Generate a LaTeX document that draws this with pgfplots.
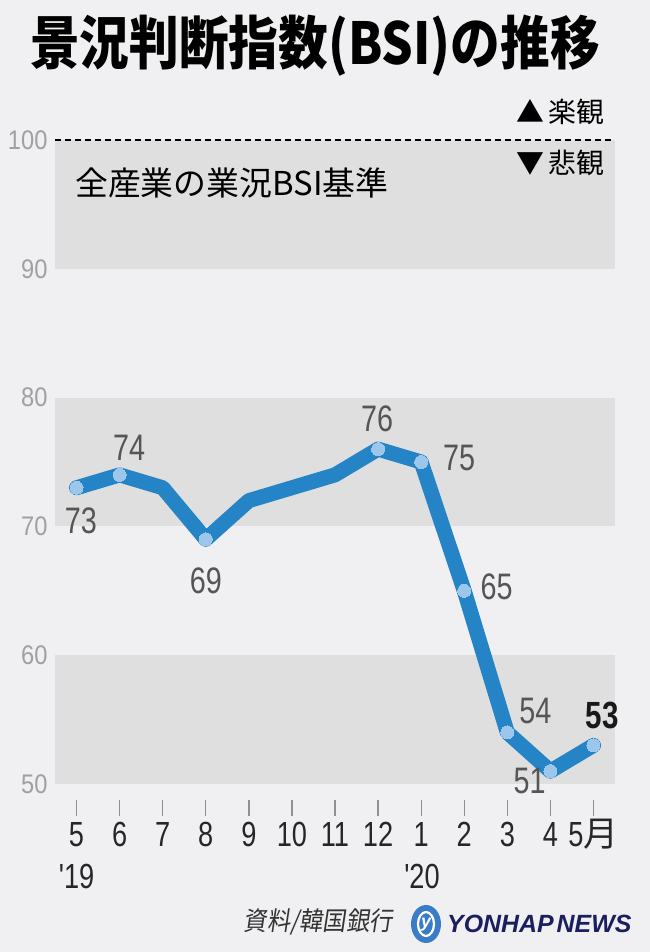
\documentclass[border=0pt]{standalone}
\usepackage{fontspec}
\setmainfont{Liberation Sans}
\newfontfamily\cond{Liberation Sans}[FakeStretch=0.78]
\newfontfamily\ycond{Liberation Sans}[FakeStretch=0.88]
\newfontfamily\jp{Noto Sans CJK JP}
\newfontfamily\jpc{Noto Sans CJK JP}[FakeStretch=0.86]
\newfontfamily\jpi{Noto Sans CJK JP}[FakeSlant=0.15,FakeStretch=0.9]
\usepackage{pgfplots}
\pgfplotsset{compat=1.18}
\definecolor{bg}{HTML}{F0F0F2}
\definecolor{band}{HTML}{DFDFDF}
\definecolor{lineblue}{HTML}{2484C6}
\definecolor{dot}{HTML}{9CC7EA}
\definecolor{lab}{HTML}{555555}
\definecolor{ylab}{HTML}{A0A0A0}
\definecolor{navy}{HTML}{1B1F5E}
\definecolor{logoblue}{HTML}{3A7CC8}
\begin{document}
\begin{tikzpicture}[x=1bp,y=1bp]
\fill[bg] (0,0) rectangle (650,952);
% title
\node[anchor=center,inner sep=0] at (315,906) {\jpc\bfseries\fontsize{58}{58}\selectfont 景況判断指数(BSI)の推移};
% source & logo
\node[anchor=east,inner sep=0,text=black!80] at (393,30) {\jpi\fontsize{26}{26}\selectfont 資料/韓国銀行};
\fill[logoblue] (426,28) ellipse (15bp and 19bp);
\draw[white, line width=2.2bp] (426,28) ellipse (8bp and 12bp);
\node[text=white,inner sep=0] at (426,27) {\bfseries\itshape\fontsize{18}{18}\selectfont y};
\node[anchor=west,inner sep=0,text=navy] at (447,28) {\bfseries\itshape\fontsize{25}{25}\selectfont YONHAP\hspace{3bp}NEWS};
\begin{axis}[
  at={(55bp,168bp)}, anchor=south west, scale only axis,
  width=560bp, height=644bp,
  xmin=-0.5, xmax=12.5, ymin=50, ymax=100,
  axis line style={draw=none}, clip=false,
  xtick={0,...,12},
  xticklabels={5,6,7,8,9,10,11,12,1,2,3,4,5{\jp 月}},
  ytick={50,60,70,80,90,100},
  major tick length=0pt,
  /pgf/number format/assume math mode=true,
  xticklabel style={font=\cond\fontsize{35}{35}\selectfont, text=black!85, anchor=base, yshift=-63bp},
  yticklabel style={font=\ycond\fontsize{27}{27}\selectfont, text=ylab, xshift=-4bp},
]
% bands
\addplot[fill=band, draw=none] coordinates {(-0.5,50) (12.5,50) (12.5,60) (-0.5,60)} -- cycle;
\addplot[fill=band, draw=none] coordinates {(-0.5,70) (12.5,70) (12.5,80) (-0.5,80)} -- cycle;
\addplot[fill=band, draw=none] coordinates {(-0.5,90) (12.5,90) (12.5,100) (-0.5,100)} -- cycle;
% dashed baseline
\addplot[black, line width=1.6bp, dash pattern=on 6bp off 4bp] coordinates {(-0.5,100) (12.5,100)};
% tick marks
\pgfplotsinvokeforeach{0,...,12}{
  \draw[ylab!90!black, line width=1.3bp] (axis cs:#1,48.75) -- (axis cs:#1,47.55);
}
% data line
\addplot[lineblue, line width=15bp, line join=round, line cap=round, mark=none]
  coordinates {(0,73) (1,74) (2,73) (3,69) (4,72) (5,73) (6,74) (7,76) (8,75) (9,65) (10,54) (11,51) (12,53)};
% dots on labelled points
\addplot[dot, only marks, mark=*, mark size=6.5bp, mark options={fill=dot, draw=dot, line width=0pt}]
  coordinates {(0,73) (1,74) (3,69) (7,76) (8,75) (9,65) (10,54) (11,51) (12,53)};
% value labels
\node[text=lab, font=\cond\fontsize{37}{37}\selectfont, inner sep=0] at (axis cs:0.1,70.45) {73};
\node[text=lab, font=\cond\fontsize{37}{37}\selectfont, inner sep=0] at (axis cs:1.22,76.1) {74};
\node[text=lab, font=\cond\fontsize{37}{37}\selectfont, inner sep=0] at (axis cs:3,65.8) {69};
\node[text=lab, font=\cond\fontsize{37}{37}\selectfont, inner sep=0] at (axis cs:6.98,78.35) {76};
\node[text=lab, font=\cond\fontsize{37}{37}\selectfont, inner sep=0] at (axis cs:8.88,75.3) {75};
\node[text=lab, font=\cond\fontsize{37}{37}\selectfont, inner sep=0] at (axis cs:9.75,65.3) {65};
\node[text=lab, font=\cond\fontsize{37}{37}\selectfont, inner sep=0] at (axis cs:10.65,55.7) {54};
\node[text=lab, font=\cond\fontsize{37}{37}\selectfont, inner sep=0] at (axis cs:10.52,50.2) {51};
\node[text=black!90, font=\cond\bfseries\fontsize{38}{38}\selectfont, inner sep=0] at (axis cs:12.2,55.3) {53};
% year labels
\node[text=black!85, font=\cond\fontsize{35}{35}\selectfont, inner sep=0] at (axis cs:0,42.8) {'19};
\node[text=black!85, font=\cond\fontsize{35}{35}\selectfont, inner sep=0] at (axis cs:8.02,42.8) {'20};
\end{axis}
% annotations (after axis so bands do not cover them)
\node[anchor=east,inner sep=0] at (605,840) {\jp\fontsize{28}{28}\selectfont ▲\,楽観};
\node[anchor=east,inner sep=0] at (605,789) {\jp\fontsize{28}{28}\selectfont ▼\,悲観};
\node[anchor=west,inner sep=0] at (75,769) {\jp\fontsize{33}{33}\selectfont 全産業の業況BSI基準};
\end{tikzpicture}
\end{document}
